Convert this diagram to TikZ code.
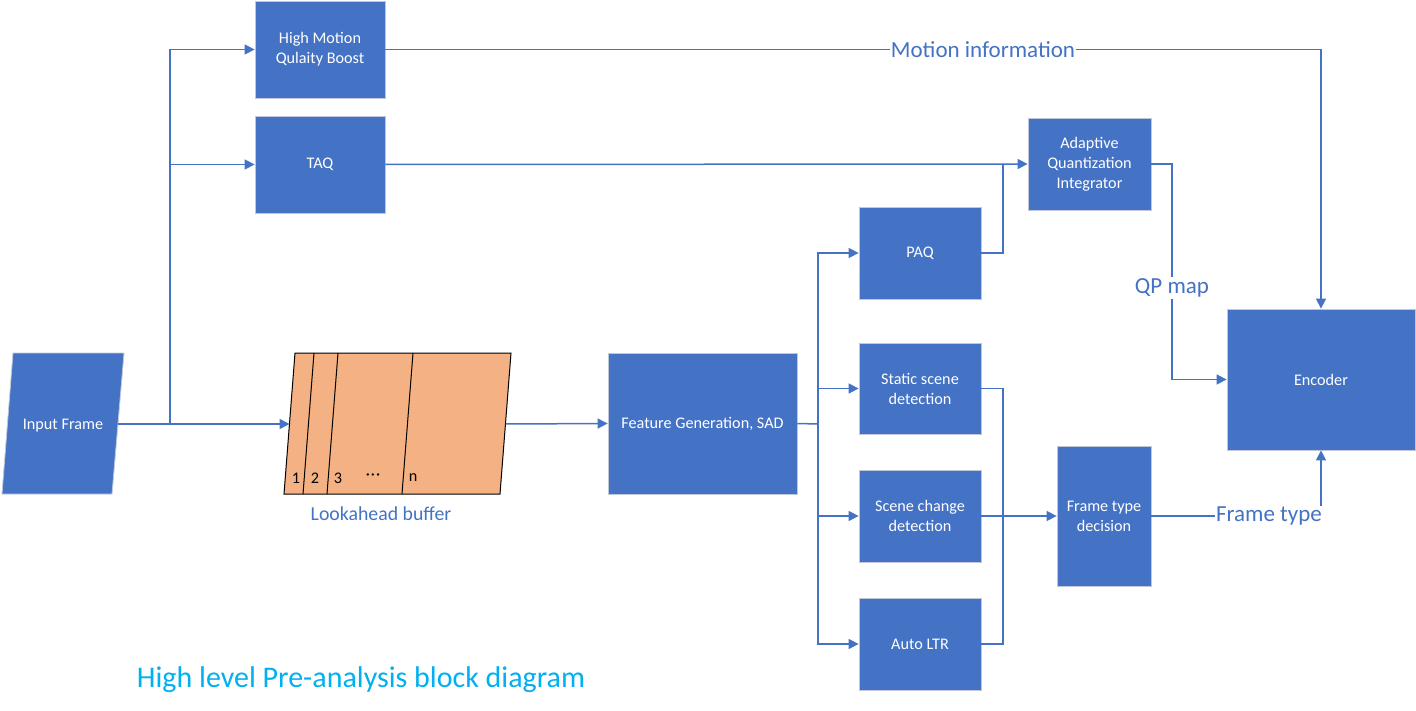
\documentclass[tikz,border=0pt]{standalone}
\usepackage{fontspec}
\setmainfont{Carlito}
\usetikzlibrary{arrows.meta}
\definecolor{boxblue}{HTML}{4472C4}
\definecolor{bufcol}{HTML}{F4B183}
\definecolor{titlecol}{HTML}{00B0F0}
\definecolor{edgegray}{HTML}{BFC7D9}
\tikzset{
  blk/.style={fill=boxblue, draw=edgegray, line width=0.8pt, text=white, align=center,
    font=\fontsize{16.2}{20}\selectfont, inner sep=2pt},
  conn/.style={draw=boxblue, line width=1.5pt},
  arr/.style={conn, -{Triangle[length=10pt,width=10pt]}},
  lbl/.style={text=boxblue, font=\fontsize{23}{26}\selectfont, inner sep=1pt, fill=white},
}
\begin{document}
\begin{tikzpicture}[x=1pt,y=-1pt]
\useasboundingbox (0,0) rectangle (1416,711);
% input frame parallelogram
\fill[boxblue, draw=edgegray, line width=0.8pt] (13,353) -- (124,353) -- (112,494) -- (2,494) -- cycle;
\node[text=white, font=\fontsize{16.2}{20}\selectfont] (inp) at (63,425.5) {Input Frame};
\coordinate (inpR) at (118,424);
% boxes
\node[blk, minimum width=130pt, minimum height=97pt] (hm) at (320,49.5) {High Motion\\Qulaity Boost};
\node[blk, minimum width=130pt, minimum height=97pt] (taq) at (320,164.5) {TAQ};
\node[blk, minimum width=123pt, minimum height=92pt] (aqi) at (1089.5,164) {Adaptive\\Quantization\\Integrator};
\node[blk, minimum width=122pt, minimum height=92pt] (paq) at (920,253) {PAQ};
\node[blk, minimum width=122pt, minimum height=91pt] (ssd) at (920,388.5) {Static scene\\detection};
\node[blk, minimum width=122pt, minimum height=92pt] (scd) at (920,516) {Scene change\\detection};
\node[blk, minimum width=122pt, minimum height=92pt] (altr) at (920,644) {Auto LTR};
\node[blk, minimum width=189pt, minimum height=141pt] (fg) at (702.5,423.5) {Feature Generation, SAD};
\node[blk, minimum width=94pt, minimum height=140pt] (ftd) at (1104,516) {Frame type\\decision};
\node[blk, minimum width=188pt, minimum height=141pt] (enc) at (1321,379.5) {Encoder};
% lookahead buffer
\filldraw[fill=bufcol, draw=black, line width=1pt] (295,353) -- (511,353) -- (500,494) -- (284,494) -- cycle;
\draw[black, line width=1pt] (314,353) -- (303,494) (338,353) -- (327,494) (413,353) -- (402,494);
\begin{scope}[font=\fontsize{16.2}{18}\selectfont, text=black]
\node (b1) at (296,478) {1};
\node (b2) at (315,478) {2};
\node (b3) at (338,478) {3};
\node (bd) at (373,477) {\textperiodcentered\kern1pt\textperiodcentered\kern1pt\textperiodcentered};
\node (bn) at (413,478) {n};
\end{scope}
\node[text=boxblue, font=\fontsize{19.8}{22}\selectfont] (lab) at (381,514) {Lookahead buffer};
\coordinate (bufL) at (289.5,424);
\coordinate (bufR) at (505.5,424);
% title
\node[text=titlecol, font=\fontsize{30}{34}\selectfont] (title) at (361,680) {High level Pre-analysis block diagram};
% connectors
\coordinate (j1) at (170,424);
\draw[arr] (inpR) -- (bufL);
\draw[arr] (j1) |- (hm.west);
\draw[arr] (j1) |- (taq.west);
\draw[arr] (bufR) -- (fg.west);
% motion info
\node[lbl] (mi) at (983,49.5) {Motion information};
\draw[conn] (hm.east) -- (mi.west);
\draw[arr] (mi.east) -| (enc.north);
% TAQ -> AQI
\draw[arr] (taq.east) -- (aqi.west);
\coordinate (jq) at (1003,164);
\draw[conn] (paq.east) -| (jq);
% QP map
\node[lbl] (qp) at (1172,288) {QP map};
\draw[conn] (aqi.east) -| (qp.north);
\draw[arr] (qp.south) |- (enc.west);
% fan out
\coordinate (jf) at (818,424);
\draw[conn] (fg.east) -- (jf);
\draw[arr] (jf) |- (paq.west);
\draw[arr] (jf) |- (ssd.west);
\draw[arr] (jf) |- (scd.west);
\draw[arr] (jf) |- (altr.west);
% fan in
\coordinate (jr) at (1003,516);
\draw[conn] (ssd.east) -| (jr);
\draw[conn] (jr) |- (altr.east);
\draw[arr] (scd.east) -- (ftd.west);
% frame type
\node[lbl, anchor=east] (ft) at (1323,516) {Frame type};
\draw[conn] (ftd.east) -- (ft.west);
\draw[arr] (enc.south |- ft.north) -- (enc.south);
\end{tikzpicture}
\end{document}
